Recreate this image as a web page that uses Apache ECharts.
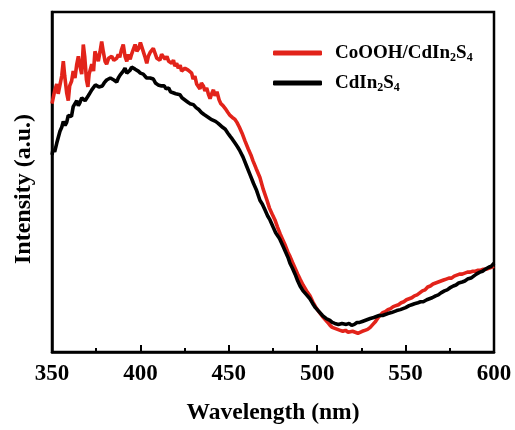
<!DOCTYPE html>
<html>
<head>
<meta charset="utf-8">
<script src="https://cdn.jsdelivr.net/npm/echarts@6.0.0/dist/echarts.min.js"></script>
<style>
  html, body { margin: 0; padding: 0; background: #fff; }
  #chart { width: 515px; height: 430px; }
</style>
</head>
<body>
<div id="chart"></div>
<script>
// wavelength (nm) and PL intensity (a.u.)
const redWavelength = [350, 350.6, 351.5, 352.7, 353.5, 354.5, 355.5, 356.4, 357.2, 358.3, 359.2, 360, 361.1, 362, 363, 364, 364.9, 365.8, 366.8, 367.7, 368.5, 369.5, 370.3, 371, 372.5, 373.5, 374.3, 375.3, 376.2, 377.2, 378.1, 379, 380, 380.9, 382, 383.8, 385, 386.6, 387.5, 388.3, 389.2, 390.3, 391.3, 392.3, 393.2, 394.2, 395, 396, 397, 398, 399, 400, 400.7, 401.6, 402.5, 403.6, 404.5, 405.5, 406.5, 407.3, 408.3, 409.3, 410.1, 411, 412, 413, 414, 415, 416, 417.7, 418.7, 419.5, 420.5, 421.4, 422.5, 423.3, 424.3, 425.2, 426.2, 427, 428, 429, 429.8, 430.8, 431.8, 432.7, 433.7, 434.5, 435.6, 436.5, 437.5, 438.4, 439.4, 440.3, 441.3, 442.2, 443.3, 444.5, 445.5, 446.7, 448, 449.5, 450.7, 452, 453.5, 454.6, 456, 457.5, 459.2, 461, 462.5, 463.7, 465.5, 467.6, 469.5, 471.6, 473, 474.5, 476.1, 477.5, 479, 480.5, 482, 483.5, 484.6, 486, 487.5, 489, 490.3, 492, 494, 495.9, 497.5, 499, 500.5, 501.6, 503, 504.5, 506, 507.3, 508.5, 510, 511.5, 513, 514.5, 516, 517.5, 518.6, 520, 521.5, 523, 524.2, 525.5, 527, 528.5, 530, 531.5, 533, 534.5, 535.4, 537, 538.5, 540, 541.5, 543, 544.5, 546, 547.5, 549, 550.5, 552, 553.5, 555, 556.5, 558, 559.5, 561, 562.5, 564, 565.5, 567, 568.5, 570, 571.5, 573, 574.5, 576, 577.5, 579, 580.5, 582, 583.5, 585, 586.5, 588, 589.5, 591, 592.5, 594, 595.5, 597, 598.5, 600];
const redIntensity = [252, 250, 265, 272, 262, 260, 280, 295, 280, 263, 255, 270, 275, 285, 278, 292, 300, 290, 282, 312, 300, 276, 269, 282, 292, 285, 305, 300, 295, 305, 315, 305, 295, 292, 298, 300, 296, 298, 302, 299, 306, 312, 300, 295, 302, 297, 302, 307, 312, 305, 308, 314, 312, 305, 300, 293, 300, 304, 302, 308, 303, 298, 300, 296, 302, 300, 297, 300, 295, 293, 296, 290, 293, 288, 291, 285, 283, 288, 290, 286, 288, 283, 277, 280, 272, 270, 267, 273, 270, 265, 268, 262, 257, 262, 266, 260, 264, 256, 252, 250, 247, 243, 240, 238, 236, 233, 228, 222, 214, 206, 200, 194, 186, 177, 165, 154, 146, 140, 134, 127, 120, 114, 108, 101, 97, 91, 85, 79, 74, 68, 62, 57, 51, 46, 42, 40, 36, 33, 30, 27, 25, 24, 23, 22, 21, 22, 20, 20, 21, 20, 19, 20, 21, 22, 23, 25, 28, 31, 35, 37, 40, 41, 43, 44, 46, 47, 48, 50, 51, 53, 54, 55, 57, 58, 60, 62, 63, 66, 67, 69, 70, 71, 72, 73, 74, 75, 75, 77, 78, 79, 79, 80, 81, 81, 82, 82, 83, 83, 84, 84, 85, 86, 87];

const blackWavelength = [350, 350.6, 351.5, 352.7, 353.5, 354.5, 355.5, 356.4, 357.4, 358.3, 359.2, 360.2, 361, 362, 363, 364, 364.9, 365.8, 366.8, 367.7, 368.7, 369.6, 370.5, 371.5, 372.5, 373.5, 374.5, 375.3, 376.5, 377.5, 378.5, 379.5, 380.9, 382, 383, 383.8, 385, 386.6, 387.5, 388.5, 389.4, 390.3, 391.3, 392.3, 393.2, 394.2, 395, 396, 397, 398, 398.8, 400, 401.6, 402.5, 403.5, 404.5, 405.5, 406.5, 407.3, 408.5, 410, 411, 412, 413.5, 414.5, 416, 417, 418.5, 420, 421, 422.4, 423.5, 425, 426.5, 428, 429, 430, 431.5, 433, 434.5, 436, 437, 438.5, 440, 441, 442.5, 444, 445, 446.5, 448, 449.5, 450.7, 452, 453.5, 455, 456.3, 458, 460, 462, 464, 465.5, 467.6, 469, 470.5, 472, 473.3, 475, 476.5, 478, 479, 480.5, 482, 483.5, 484.6, 486, 487.5, 489, 490.3, 492, 494, 495.9, 497.5, 499, 500.5, 501.6, 503, 505, 507.2, 508.5, 510, 512, 514, 515, 516.5, 518, 519.5, 521, 522.5, 524, 525.5, 527, 528.5, 530, 532, 533.5, 535, 537, 538.5, 540, 542, 543.5, 545, 547, 548.5, 550, 552, 553.5, 555, 557, 558.5, 560, 562, 563.5, 565, 567, 568.5, 570, 572, 573.5, 575, 577, 578.5, 580, 582, 583.5, 585, 587, 588.5, 590, 592, 593.5, 595, 597, 598.5, 600];
const blackIntensity = [200, 206, 203, 212, 214, 224, 228, 234, 230, 233, 240, 242, 239, 249, 252, 255, 250, 253, 258, 260, 255, 253, 260, 263, 266, 268, 271, 272, 269, 271, 270, 273, 276, 275, 278, 277, 276, 274, 278, 281, 283, 285, 288, 283, 282, 286, 289, 290, 287, 288, 285, 283, 282, 280, 278, 276, 278, 279, 277, 273, 271, 273, 270, 270, 267, 268, 264, 263, 262, 264, 261, 258, 256, 254, 252, 250, 251, 248, 246, 243, 241, 242, 238, 236, 237, 234, 232, 230, 228, 226, 222, 219, 216, 212, 208, 204, 198, 189, 180, 171, 165, 154, 150, 144, 138, 134, 127, 121, 117, 114, 108, 102, 96, 90, 85, 79, 72, 67, 62, 58, 54, 49, 45, 42, 40, 37, 34, 32, 30, 29, 28, 29, 27, 28, 29, 27, 28, 30, 30, 31, 32, 33, 34, 35, 36, 37, 37, 38, 39, 40, 41, 42, 43, 44, 45, 47, 48, 49, 50, 51, 51, 53, 54, 55, 57, 58, 60, 62, 63, 65, 67, 68, 70, 71, 72, 74, 75, 77, 79, 81, 82, 84, 86, 87, 90];

const seriesNames = ['CoOOH/CdIn{sub|2}S{sub|4}', 'CdIn{sub|2}S{sub|4}'];
const seriesColors = ['#e2231a', '#000000'];
const xTicks = [350, 400, 450, 500, 550, 600];

const FONT = '"Liberation Serif", "Times New Roman", serif';
const zip = (xs, ys) => xs.map((x, i) => [x, ys[i]]);

const chart = echarts.init(document.getElementById('chart'));
chart.setOption({
  animation: false,
  grid: {
    left: 52, right: 21, top: 12, bottom: 73,
    show: true, borderColor: '#000', borderWidth: 2.5, backgroundColor: 'transparent',
  },
  legend: {
    orient: 'vertical',
    left: 273, top: 42, padding: 0,
    itemWidth: 49, itemHeight: 5, itemGap: 8,
    icon: 'roundRect',
    data: seriesNames,
    textStyle: {
      fontFamily: FONT, fontWeight: 'bold', fontSize: 19, color: '#000', lineHeight: 22,
      padding: [0, 0, 0, 8],
      rich: {
        sub: { fontFamily: FONT, fontWeight: 'bold', fontSize: 12, verticalAlign: 'bottom', lineHeight: 13, padding: [9, 0, 0, 0] },
      },
    },
  },
  xAxis: {
    type: 'value',
    min: xTicks[0], max: xTicks[xTicks.length - 1], interval: 50,
    name: 'Wavelength (nm)',
    nameLocation: 'middle', nameGap: 49,
    nameTextStyle: { fontFamily: FONT, fontWeight: 'bold', fontSize: 23.5, color: '#000' },
    axisLine: { lineStyle: { color: '#000', width: 2.5 } },
    axisTick: { inside: true, length: 7, lineStyle: { width: 2, color: '#000' } },
    minorTick: { show: true, splitNumber: 2, length: 4, lineStyle: { width: 2, color: '#000' } },
    splitLine: { show: false },
    axisLabel: { fontFamily: FONT, fontWeight: 'bold', fontSize: 23, color: '#000', margin: 11 },
  },
  yAxis: {
    type: 'value',
    min: 0, max: 345,
    name: 'Intensity (a.u.)',
    nameLocation: 'middle', nameGap: 16,
    nameTextStyle: { fontFamily: FONT, fontWeight: 'bold', fontSize: 24, color: '#000', padding: [0, 14, 0, 0] },
    axisLine: { lineStyle: { color: '#000', width: 2.5 } },
    axisTick: { show: false },
    axisLabel: { show: false },
    splitLine: { show: false },
  },
  series: [
    {
      name: seriesNames[0], type: 'line', showSymbol: false, clip: true,
      data: zip(redWavelength, redIntensity),
      lineStyle: { width: 3.6, color: seriesColors[0] },
      itemStyle: { color: seriesColors[0] },
    },
    {
      name: seriesNames[1], type: 'line', showSymbol: false, clip: true,
      data: zip(blackWavelength, blackIntensity),
      lineStyle: { width: 3.6, color: seriesColors[1] },
      itemStyle: { color: seriesColors[1] },
    },
  ],
});
</script>
</body>
</html>
